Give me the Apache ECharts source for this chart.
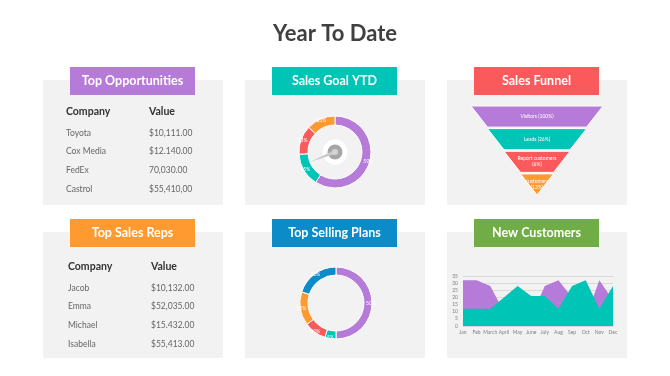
<!DOCTYPE html>
<html>
<head>
<meta charset="utf-8">
<script src="https://cdn.jsdelivr.net/npm/echarts@6/dist/echarts.min.js"></script>
<style>
  html, body { margin: 0; padding: 0; background: #fff; }
  #main { width: 670px; height: 376px; }
</style>
</head>
<body>
<div id="main"></div>
<script>
const FONT = 'Lato, "Open Sans", sans-serif';

// tables
const oppCompanies = ['Toyota', 'Cox Media', 'FedEx', 'Castrol'];
const oppValues = ['$10,111.00', '$12.140.00', '70,030.00', '$55,410,00'];
const repNames = ['Jacob', 'Emma', 'Michael', 'Isabella'];
const repValues = ['$10,132.00', '$52,035.00', '$15.432.00', '$55,413.00'];

// sales goal ytd
const goalValues = [59, 15, 13, 13];
const goalNeedle = 69;

// sales funnel: label percentages and drawn widths
const funnelNames = ['Visitors', 'Leads', 'Report customers', 'customers'];
const funnelShares = [100, 26, 6, 13];
const funnelSizes = [100, 75, 50, 25];

// top selling plans
const planValues = [50, 5, 10, 15, 20];

// new customers
const months = ['Jan', 'Feb', 'March', 'April', 'May', 'June', 'July', 'Aug', 'Sep', 'Oct', 'Nov', 'Dec'];
const custBack = [32, 32, 28, 10, 10, 7, 28, 32, 20, 6, 32, 18];
const custFront = [12, 12, 12, 20, 28, 21, 21, 12, 28, 32, 12, 28];

const C = {
    purple: '#b67bd8',
    teal: '#00c4b5',
    red: '#fb5a5d',
    orange: '#fe9a2f',
    blue: '#0b8bc7',
    green: '#71ad47'
};

const panels = [
    { x: 43, y: 80, h: 125, title: 'Top Opportunities', color: C.purple },
    { x: 245, y: 80, h: 125, title: 'Sales Goal YTD', color: C.teal },
    { x: 447, y: 80, h: 125, title: 'Sales Funnel', color: C.red },
    { x: 43, y: 232, h: 126, title: 'Top Sales Reps', color: C.orange },
    { x: 245, y: 232, h: 126, title: 'Top Selling Plans', color: C.blue },
    { x: 447, y: 232, h: 126, title: 'New Customers', color: C.green }
];

let graphics = [];
graphics.push({
    type: 'text',
    style: { x: 335, y: 34, text: 'Year To Date', font: 'bold 22px ' + FONT, fill: '#404040', align: 'center', verticalAlign: 'middle' }
});
panels.forEach(p => {
    graphics.push({ type: 'rect', shape: { x: p.x, y: p.y, width: 180, height: p.h }, style: { fill: '#f2f2f2' } });
    graphics.push({ type: 'rect', shape: { x: p.x + 27, y: p.y - 13, width: 125, height: 28 }, style: { fill: p.color } });
    graphics.push({
        type: 'text',
        style: { x: p.x + 89.5, y: p.y + 1, text: p.title, font: 'bold 12.5px ' + FONT, fill: '#fff', align: 'center', verticalAlign: 'middle' }
    });
});

function table (x1, x2, y0, names, values) {
    const head = 'bold 10.5px ' + FONT;
    const body = '8.5px ' + FONT;
    graphics.push({ type: 'text', style: { x: x1, y: y0, text: 'Company', font: head, fill: '#333', verticalAlign: 'middle' } });
    graphics.push({ type: 'text', style: { x: x2, y: y0, text: 'Value', font: head, fill: '#333', verticalAlign: 'middle' } });
    names.forEach((n, i) => {
        const y = y0 + 21 + i * 18.7;
        graphics.push({ type: 'text', style: { x: x1, y: y, text: n, font: body, fill: '#666', verticalAlign: 'middle' } });
        graphics.push({ type: 'text', style: { x: x2, y: y, text: values[i], font: body, fill: '#666', verticalAlign: 'middle' } });
    });
}
table(66, 149, 112, oppCompanies, oppValues);
table(68, 151, 267, repNames, repValues);

// small light dot in the middle of the gauge hub
graphics.push({ type: 'circle', z: 100, shape: { cx: 335, cy: 152, r: 3 }, style: { fill: '#d4d4d4' } });

const smallLabel = {
    show: true,
    position: 'inner',
    color: '#fff',
    fontSize: 5,
    fontFamily: FONT,
    overflow: 'none',
    textBorderWidth: 0,
    formatter: '{c}%'
};

const option = {
    animation: false,
    backgroundColor: '#fff',
    graphic: graphics,
    grid: { left: 463, right: 57, top: 276, bottom: 50 },
    xAxis: {
        type: 'category',
        data: months,
        boundaryGap: false,
        axisLine: { show: false },
        axisTick: { show: false },
        axisLabel: { fontSize: 5, color: '#7f7f7f', fontFamily: FONT, margin: 4, interval: 0 }
    },
    yAxis: {
        type: 'value',
        min: 0,
        max: 35,
        interval: 5,
        axisLine: { show: false },
        axisTick: { show: false },
        axisLabel: { fontSize: 5, color: '#7f7f7f', fontFamily: FONT, margin: 5 },
        splitLine: { lineStyle: { color: '#d9d9d9', width: 1 } }
    },
    series: [
        {
            type: 'pie',
            center: [335, 152],
            radius: [27, 36],
            startAngle: 90,
            data: goalValues.map((v, i) => ({ value: v, itemStyle: { color: [C.purple, C.teal, C.red, C.orange][i] } })),
            itemStyle: { borderColor: '#fff', borderWidth: 1 },
            label: smallLabel,
            labelLine: { show: false },
            labelLayout: { align: 'center', verticalAlign: 'middle', hideOverlap: false },
            emphasis: { disabled: true }
        },
        {
            type: 'gauge',
            center: [335, 152],
            radius: 36,
            startAngle: 90,
            endAngle: -270,
            min: 0,
            max: 100,
            axisLine: { show: false },
            splitLine: { show: false },
            axisTick: { show: false },
            axisLabel: { show: false },
            title: { show: false },
            detail: { show: false },
            pointer: { icon: 'path://M1,0 L2,100 L0,100 Z', length: 27, width: 4, itemStyle: { color: '#c9c9c9' } },
            anchor: { show: true, showAbove: false, size: 20, itemStyle: { color: '#a6a6a6', borderColor: '#fff', borderWidth: 5 } },
            data: [{ value: goalNeedle }]
        },
        {
            type: 'funnel',
            left: 471,
            top: 106,
            width: 132,
            height: 89,
            min: 0,
            max: 100,
            minSize: '0%',
            maxSize: '100%',
            sort: 'none',
            gap: 1.5,
            data: funnelNames.map((n, i) => ({
                name: n + '\n(' + funnelShares[i] + '%)',
                value: funnelSizes[i],
                itemStyle: { color: [C.purple, C.teal, C.red, C.orange][i] }
            })),
            label: {
                show: true,
                position: 'inside',
                color: '#fff',
                fontSize: 5,
                lineHeight: 6,
                fontFamily: FONT,
                textBorderWidth: 0,
                formatter: p => p.dataIndex < 2 ? p.name.replace('\n', ' ') : p.name
            },
            emphasis: { disabled: true }
        },
        {
            type: 'pie',
            center: [336, 303],
            radius: [28, 36],
            startAngle: 90,
            data: planValues.map((v, i) => ({ value: v, itemStyle: { color: [C.purple, C.teal, C.red, C.orange, C.blue][i] } })),
            itemStyle: { borderColor: '#fff', borderWidth: 1 },
            label: smallLabel,
            labelLine: { show: false },
            labelLayout: { align: 'center', verticalAlign: 'middle', hideOverlap: false },
            emphasis: { disabled: true }
        },
        {
            type: 'line',
            data: custBack,
            symbol: 'none',
            lineStyle: { width: 0 },
            itemStyle: { color: C.purple },
            areaStyle: { color: C.purple, opacity: 1 }
        },
        {
            type: 'line',
            data: custFront,
            symbol: 'none',
            lineStyle: { width: 0 },
            itemStyle: { color: C.teal },
            areaStyle: { color: C.teal, opacity: 1 }
        }
    ]
};

const chart = echarts.init(document.getElementById('main'), null, { renderer: 'canvas' });
chart.setOption(option);
</script>
</body>
</html>
